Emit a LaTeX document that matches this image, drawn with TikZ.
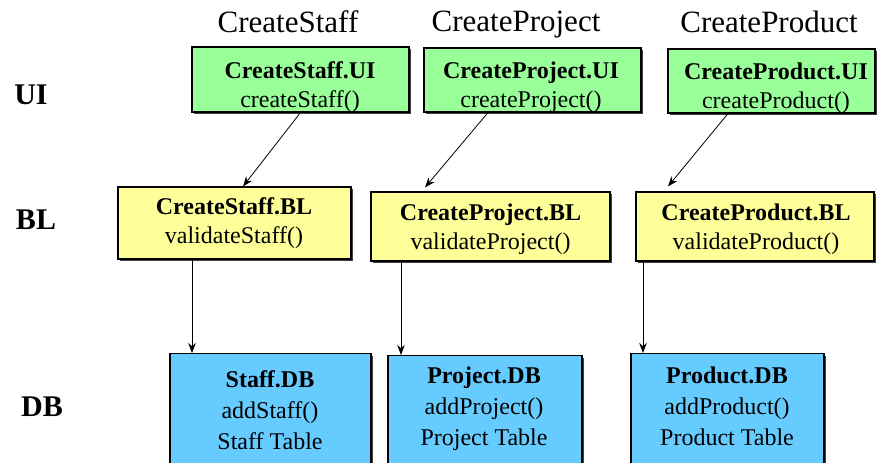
\documentclass[tikz,border=0pt]{standalone}
\usepackage{fontspec}
\setmainfont{Liberation Serif}
\usetikzlibrary{shadows}
\usetikzlibrary{positioning}
\usetikzlibrary{arrows.meta}

\definecolor{uigreen}{HTML}{99FF99}
\definecolor{blyellow}{HTML}{FFFF99}
\definecolor{dbblue}{HTML}{66CCFF}

\begin{document}
\begin{tikzpicture}[x=1pt, y=-1pt,
   tier/.style={draw=black, line width=1.1pt,
      drop shadow={shadow xshift=2pt, shadow yshift=-2pt, fill=black!75, opacity=1}},
   boxtext/.style={align=center, inner sep=0pt, font=\fontsize{24}{29}\selectfont},
   title/.style={anchor=base, inner sep=0pt, font=\fontsize{31}{37}\selectfont},
   layer/.style={inner sep=0pt, font=\bfseries\fontsize{30}{36}\selectfont},
   link/.style={line width=0.8pt, -{Stealth[length=10pt,width=7.5pt]}}]

  \useasboundingbox (0,0) rectangle (881,463);
  \clip (0,0) rectangle (881,463);

  %titles
  \foreach \x/\y/\txt/\name in {288/32/CreateStaff/tS, 516/31/CreateProject/tP, 769/32/CreateProduct/tR}{
     \node[title] (\name) at (\x,\y) {\txt};
  }

  %layer names
  \foreach \x/\y/\txt in {31/95/UI, 36/220/BL, 42/407/DB}{
     \node[layer] (L\txt) at (\x,\y) {\txt};
  }

  %draw UI boxes
  \foreach \x/\y/\w/\h/\tx/\ty/\name/\hd/\fn in {
        300.5/79.5/217/65/300/87/S/CreateStaff.UI/createStaff(),
        532.5/80/217/64/531/87/P/CreateProject.UI/createProject(),
        771.5/81/207/64/776/88/R/CreateProduct.UI/createProduct()}{
     \node[tier, fill=uigreen, minimum width=\w pt, minimum height=\h pt] (ui\name) at (\x,\y) {};
     \node[boxtext] (ui\name txt) at (\tx,\ty) {\textbf{\hd}\\\fn};
  }

  %draw BL boxes
  \foreach \x/\y/\w/\h/\tx/\ty/\name/\hd/\fn in {
        234.5/223/233/72/234/223/S/CreateStaff.BL/validateStaff(),
        490.5/226.5/239/69/490.5/229/P/CreateProject.BL/validateProject(),
        755/226.5/238/69/756/229/R/CreateProduct.BL/validateProduct()}{
     \node[tier, fill=blyellow, minimum width=\w pt, minimum height=\h pt] (bl\name) at (\x,\y) {};
     \node[boxtext] (bl\name txt) at (\tx,\ty) {\textbf{\hd}\\\fn};
  }

  %draw DB boxes (cut off at the bottom)
  \foreach \x/\y/\w/\tx/\ty/\name/\hd/\fn/\tab in {
        270.5/353/201/270/410/S/Staff.DB/addStaff()/Staff Table,
        485/355/194/484/409/P/Project.DB/addProject()/Project Table,
        727.5/353/193/727/406/R/Product.DB/addProduct()/Product Table}{
     \node[tier, fill=dbblue, anchor=north, minimum width=\w pt, minimum height=140pt] (db\name) at (\x,\y) {};
     \node[boxtext, font=\fontsize{24}{31}\selectfont] (db\name txt) at (\tx,\ty) {\textbf{\hd}\\\fn\\\tab};
  }

  %UI -> BL
  \draw[link] (uiS.south) -- ([xshift=8.5pt]blS.north);
  \draw[link] ([xshift=-44.5pt]uiP.south) -- ([xshift=-65.5pt, yshift=4pt]blP.north);
  \draw[link] ([xshift=-43.5pt]uiR.south) -- ([xshift=-87pt, yshift=5pt]blR.north);

  %BL -> DB
  \draw[link] ([xshift=-42.5pt]blS.south) -- ([xshift=-42.5pt]blS.south |- dbS.north);
  \draw[link] ([xshift=-89.5pt]blP.south) -- ([xshift=-89.5pt]blP.south |- dbP.north);
  \draw[link] ([xshift=-112pt]blR.south) -- ([xshift=-112pt]blR.south |- dbR.north);

\end{tikzpicture}
\end{document}
